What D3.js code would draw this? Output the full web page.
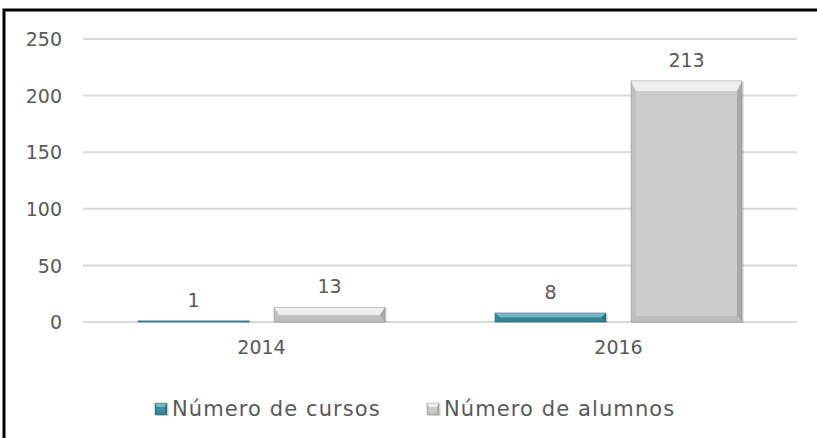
<!DOCTYPE html>
<html>
<head>
<meta charset="utf-8">
<script src="https://cdn.jsdelivr.net/npm/d3@7"></script>
<style>
body {margin:0;background:#fff;}
text {font-family:"Century Gothic","DejaVu Sans",sans-serif;fill:#595959;}
.tick text {font-size:19px;}
.lbl {font-size:19px;text-anchor:middle;}
.leg {font-size:21px;letter-spacing:1.1px;}
</style>
</head>
<body>
<svg id="chart" width="817" height="438"></svg>
<script>
// data
var years = ['2014', '2016']
var series = ['Número de cursos', 'Número de alumnos']
var cursos = [1, 8]
var alumnos = [13, 213]
var yTicks = [0, 50, 100, 150, 200, 250]

var colors = {
  'Número de cursos': {base:'#3d8c9e', top:'#7cc0cf', side:'#1f5562', bot:'#2a6c7a'},
  'Número de alumnos': {base:'#cccccc', top:'#f4f4f4', side:'#7f7f7f', bot:'#a0a0a0'}
}

var svg = d3.select('#chart')

// frame
svg.append('rect').attr('x', 4).attr('y', 10).attr('width', 900).attr('height', 600)
  .attr('fill', 'none').attr('stroke', '#000').attr('stroke-width', 3)

var plotL = 83, plotR = 797, plotT = 39, plotB = 322

var x0 = d3.scaleBand().domain(years).range([plotL, plotR])
var x1 = d3.scaleBand().domain(series).range([0, x0.bandwidth()]).paddingInner(0.184).paddingOuter(0.404)
var y = d3.scaleLinear().domain([0, 250]).range([plotB, plotT])

// gridlines
svg.append('g').selectAll('line').data(yTicks).enter().append('line')
  .attr('x1', plotL).attr('x2', plotR)
  .attr('y1', d => y(d)).attr('y2', d => y(d))
  .attr('stroke', '#d9d9d9').attr('stroke-width', 2)

// y axis labels
var yAxis = svg.append('g').attr('transform', 'translate(62,0)')
  .call(d3.axisLeft(y).tickValues(yTicks).tickSize(0).tickPadding(0))
yAxis.select('.domain').remove()
yAxis.selectAll('text').attr('dy', '0.35em')

// x axis labels
var xAxis = svg.append('g').attr('transform', 'translate(0,' + (plotB + 6) + ')')
  .call(d3.axisBottom(x0).tickSize(0).tickPadding(0))
xAxis.select('.domain').remove()
xAxis.selectAll('text').attr('dy', '1.35em').style('font-size', '19px')

var rows = []
years.forEach(function (yr, i) {
  rows.push({year: yr, s: series[0], v: cursos[i]})
  rows.push({year: yr, s: series[1], v: alumnos[i]})
})

// beveled bar: wide top bevel, thin sides
function bevelBar(g, bx, by, w, h, c, sc) {
  sc = sc || 1
  var bt = Math.min(10 * sc, h / 2), bs = Math.min(5 * sc, w / 2), bb = Math.min(6 * sc, h / 2)
  g.append('rect').attr('x', bx + 2).attr('y', by + 1).attr('width', w).attr('height', h)
    .attr('fill', '#000').attr('opacity', 0.1)
  g.append('rect').attr('x', bx).attr('y', by).attr('width', w).attr('height', h).attr('fill', c.base)
  var poly = function (pts, fill, op) {
    g.append('polygon').attr('points', pts.map(p => p.join(',')).join(' ')).attr('fill', fill).attr('opacity', op)
  }
  poly([[bx, by], [bx + w, by], [bx + w - bs, by + bt], [bx + bs, by + bt]], c.top, 0.85)
  poly([[bx + w, by], [bx + w, by + h], [bx + w - bs, by + h - bb], [bx + w - bs, by + bt]], c.side, 0.45)
  poly([[bx, by + h], [bx + w, by + h], [bx + w - bs, by + h - bb], [bx + bs, by + h - bb]], c.bot, 0.35)
  poly([[bx, by], [bx + bs, by + bt], [bx + bs, by + h - bb], [bx, by + h]], c.side, 0.15)
  g.append('rect').attr('x', bx).attr('y', by).attr('width', w).attr('height', h)
    .attr('fill', 'none').attr('stroke', c.side).attr('stroke-opacity', 0.5).attr('stroke-width', 0.8)
}

var bars = svg.append('g')
rows.forEach(function (d) {
  var bx = x0(d.year) + x1(d.s)
  var by = y(d.v)
  bevelBar(bars, bx, by, x1.bandwidth(), plotB - by, colors[d.s])
  svg.append('text').attr('class', 'lbl')
    .attr('x', bx + x1.bandwidth() / 2).attr('y', by - 14)
    .text(d.v)
})

// legend
var legX = [155, 427]
series.forEach(function (s, i) {
  var g = svg.append('g')
  bevelBar(g, legX[i], 403, 12, 12, colors[s], 0.4)
  g.append('text').attr('class', 'leg').attr('x', legX[i] + 17).attr('y', 416).text(s)
})
</script>
</body>
</html>
